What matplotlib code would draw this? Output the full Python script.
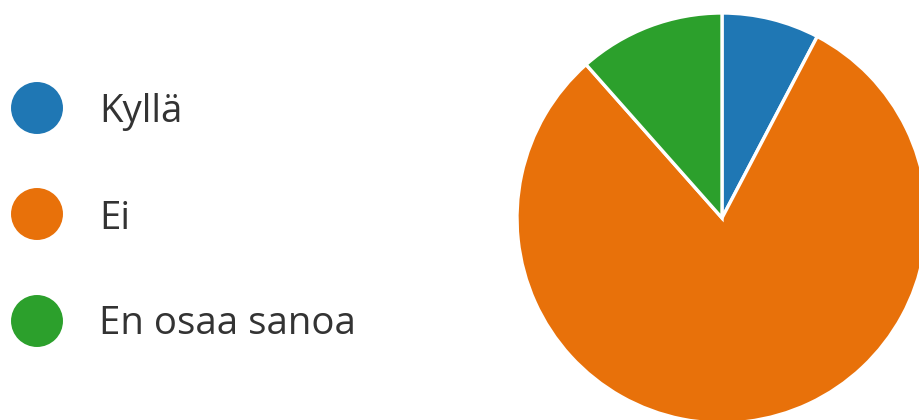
import matplotlib
matplotlib.use("Agg")
import matplotlib.pyplot as plt

# Vastaukset
labels = ["Kyllä", "Ei", "En osaa sanoa"]
counts = [2, 21, 3]
colors = ["#1f77b4", "#e8710a", "#2ca02c"]

W, H = 920, 420
fig = plt.figure(figsize=(W / 100, H / 100), dpi=100)

# Piirakka, keskipiste n. (722, 218) px, sade 205 px
cx, cy, r = 722, 218, 205
ax = fig.add_axes([(cx - r) / W, (H - cy - r) / H, 2 * r / W, 2 * r / H])
ax.pie(counts, colors=colors, startangle=90, counterclock=False, radius=1,
       wedgeprops=dict(edgecolor="white", linewidth=2.4))
ax.set_xlim(-1, 1)
ax.set_ylim(-1, 1)
ax.set_aspect("equal")
ax.axis("off")

# Selite, piirretaan kasin pikselikoordinaateissa
lg = fig.add_axes([0, 0, 1, 1])
lg.set_xlim(0, W)
lg.set_ylim(H, 0)
lg.axis("off")
lg.patch.set_alpha(0)
marker_y = [108, 214, 321]
text_base = [122, 229, 334]
for lab, col, my, ty in zip(labels, colors, marker_y, text_base):
    lg.scatter([37], [my], s=1400, color=col, edgecolors="none")
    lg.text(99, ty, lab, fontsize=27.6, color="#333333", va="baseline",
            ha="left", family="Open Sans")

fig.savefig("out.png", dpi=100)
